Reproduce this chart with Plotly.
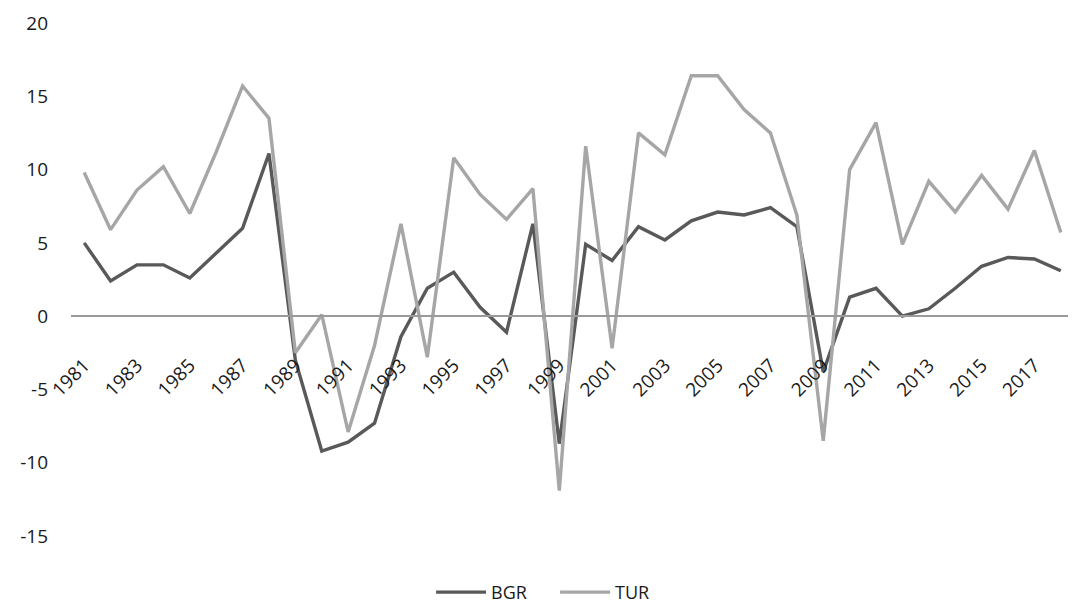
import plotly.graph_objects as go

years = [str(y) for y in range(1981, 2019)]
bgr = [5.0, 2.4, 3.5, 3.5, 2.6, 4.3, 6.0, 11.1, -3.0, -9.2, -8.6, -7.3, -1.4, 1.9, 3.0, 0.6, -1.1, 6.3,
       -8.7, 4.9, 3.8, 6.1, 5.2, 6.5, 7.1, 6.9, 7.4, 6.1, -3.8, 1.3, 1.9, 0.0, 0.5, 1.9, 3.4, 4.0, 3.9, 3.1]
tur = [9.8, 5.9, 8.6, 10.2, 7.0, 11.2, 15.7, 13.5, -2.5, 0.1, -7.9, -2.0, 6.3, -2.8, 10.8, 8.3, 6.6, 8.7,
       -11.9, 11.6, -2.2, 12.5, 11.0, 16.4, 16.4, 14.1, 12.5, 6.9, -8.5, 10.0, 13.2, 4.9, 9.2, 7.1, 9.6, 7.3, 11.3, 5.7]
tick_years = years[::2]
y_ticks = [-15, -10, -5, 0, 5, 10, 15, 20]
y_tick_text = [str(v) for v in y_ticks]

font_family = "Open Sans, Noto Sans, sans-serif"

fig = go.Figure()
fig.add_trace(go.Scatter(x=years, y=bgr, mode="lines", name="BGR",
                         line=dict(color="#595959", width=3.4)))
fig.add_trace(go.Scatter(x=years, y=tur, mode="lines", name="TUR",
                         line=dict(color="#a6a6a6", width=3.4)))

ymin, ymax = -15, 20
fig.update_layout(
    width=1068, height=605,
    margin=dict(l=63, r=2, t=12, b=73),
    plot_bgcolor="white", paper_bgcolor="white",
    font=dict(family=font_family, size=19, color="#1a1a1a"),
    showlegend=True,
    legend=dict(orientation="h", x=0.359, xanchor="left", y=-0.11, yanchor="middle",
                font=dict(size=18, color="#1a1a1a"), itemwidth=50,
                entrywidth=59, entrywidthmode="pixels"),
    xaxis=dict(
        type="category",
        anchor="free",
        position=(0 - ymin) / (ymax - ymin),
        tickmode="array", tickvals=tick_years, ticktext=tick_years,
        tickangle=-45,
        showline=True, linecolor="#9a9a9a", linewidth=1.5,
        showgrid=False, ticks="",
        range=[-0.5, len(years) - 0.5],
        tickfont=dict(size=19, color="#1a1a1a"),
        ticklabelstandoff=30,
    ),
    yaxis=dict(
        range=[ymin, ymax],
        tickmode="array", tickvals=y_ticks, ticktext=y_tick_text,
        showgrid=False, zeroline=False, showline=False, ticks="",
        tickfont=dict(size=19, color="#1a1a1a"),
        ticklabelstandoff=22,
        ticklabeloverflow="allow",
    ),
)

fig.write_html("out.html")
